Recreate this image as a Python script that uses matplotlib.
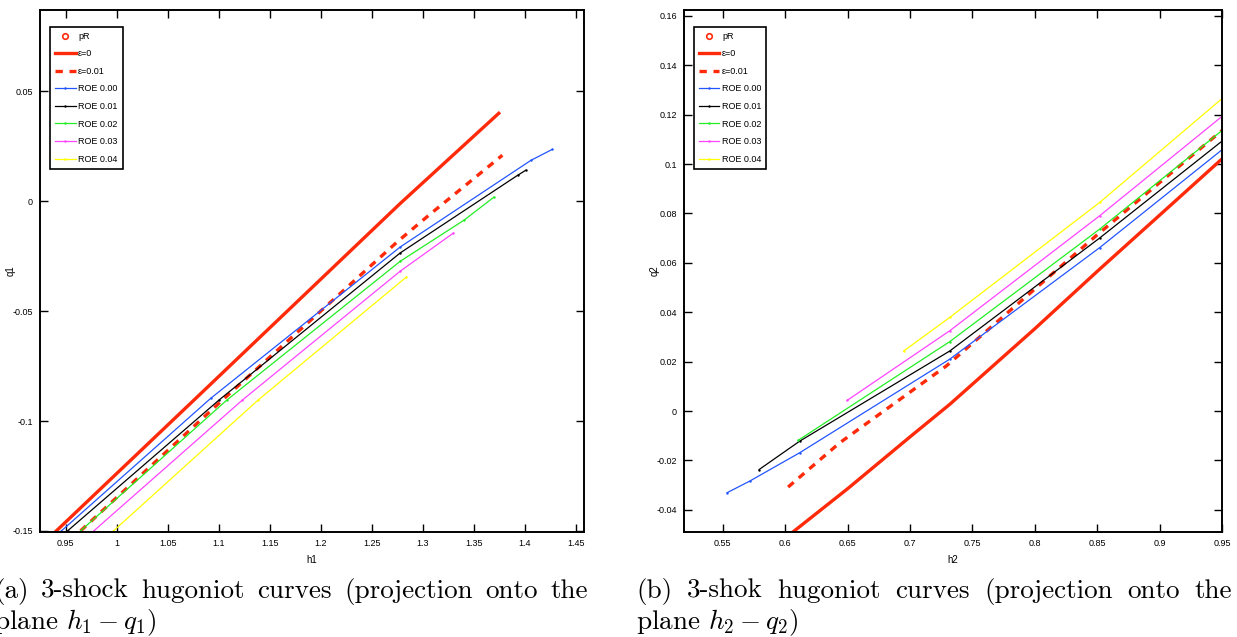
import numpy as np
import matplotlib
matplotlib.use("Agg")
import matplotlib.pyplot as plt
from matplotlib.ticker import FuncFormatter

plt.rcParams['font.family'] = ['Liberation Sans Narrow', 'Liberation Sans', 'DejaVu Sans']
plt.rcParams['axes.unicode_minus'] = False
plt.rcParams['mathtext.fontset'] = 'cm'

# ---- data: panel (a), h1 - q1 ----
h1_eps0 = [0.941, 1.0758, 1.278, 1.3745]
q1_eps0 = [-0.150, -0.0905, -0.001, 0.040]
h1_eps001 = [0.9647, 1.1036, 1.275, 1.308, 1.378]
q1_eps001 = [-0.150, -0.0905, -0.0185, -0.0056, 0.0209]
h1_roe0 = [0.946, 1.0922, 1.278, 1.406, 1.427]
q1_roe0 = [-0.150, -0.0897, -0.0208, 0.0186, 0.0236]
h1_roe1 = [0.952, 1.1003, 1.278, 1.393, 1.401]
q1_roe1 = [-0.150, -0.0905, -0.0235, 0.0118, 0.0141]
h1_roe2 = [0.9647, 1.108, 1.278, 1.3405, 1.3696]
q1_roe2 = [-0.150, -0.0905, -0.0273, -0.0086, 0.0018]
h1_roe3 = [0.9777, 1.1232, 1.278, 1.330]
q1_roe3 = [-0.150, -0.0905, -0.0318, -0.0145]
h1_roe4 = [0.997, 1.1386, 1.284]
q1_roe4 = [-0.150, -0.0905, -0.0345]

# ---- panel (b), h2 - q2 ----
h2_eps0 = [0.605, 0.65, 0.70, 0.7319, 0.80, 0.8521, 0.90, 0.95]
q2_eps0 = [-0.0495, -0.0315, -0.0105, 0.0027, 0.0333, 0.0575, 0.0793, 0.1021]
h2_eps001 = [0.6024, 0.6437, 0.7293, 0.8508, 0.95]
q2_eps001 = [-0.0308, -0.0129, 0.0183, 0.0717, 0.1136]
h2_roe0 = [0.5535, 0.5716, 0.6117, 0.7319, 0.8521, 0.95]
q2_roe0 = [-0.0331, -0.0284, -0.0169, 0.0210, 0.0662, 0.1058]
h2_roe1 = [0.5792, 0.6117, 0.7319, 0.8521, 0.95]
q2_roe1 = [-0.0237, -0.0122, 0.0243, 0.0701, 0.1093]
h2_roe2 = [0.6104, 0.7319, 0.8521, 0.95]
q2_roe2 = [-0.0119, 0.0281, 0.0737, 0.1136]
h2_roe3 = [0.6497, 0.7319, 0.8521, 0.95]
q2_roe3 = [0.0043, 0.0325, 0.0791, 0.1193]
h2_roe4 = [0.695, 0.7319, 0.8521, 0.95]
q2_roe4 = [0.0243, 0.0379, 0.0845, 0.1265]

labels = ['pR', '\u03b5=0', '\u03b5=0.01', 'ROE 0.00', 'ROE 0.01', 'ROE 0.02', 'ROE 0.03', 'ROE 0.04']
roe_colors = ['#2255ff', 'black', '#22ee22', '#ff44ff', '#ffff00']
red = '#ff2a0a'

fig = plt.figure(figsize=(12.37, 6.37), dpi=100)
ax1 = fig.add_axes([40/1237, 105/637, 544/1237, 522/637])
ax2 = fig.add_axes([684/1237, 105/637, 538/1237, 522/637])


def draw(ax, eps0, eps001, roes, xlabel, ylabel, ylab_x):
    ax.plot([], [], 'o', mfc='none', mec=red, ms=4, mew=1.2, ls='none', label=labels[0])
    ax.plot(eps0[0], eps0[1], color=red, lw=2.4, label=labels[1])
    ax.plot(eps001[0], eps001[1], color=red, lw=2.4, ls=(0, (2.2, 2.0)), label=labels[2])
    for (x, y), c, lab in zip(roes, roe_colors, labels[3:]):
        ax.plot(x, y, color=c, lw=0.9, marker='.', ms=1.5, label=lab)
    ax.set_xlabel(xlabel, fontsize=7, labelpad=5)
    ax.set_ylabel(ylabel, fontsize=7)
    ax.yaxis.set_label_coords(ylab_x, 0.5)
    ax.tick_params(direction='in', top=True, right=True, length=6, width=1, labelsize=6.5, pad=5)
    for s in ax.spines.values():
        s.set_linewidth(1.4)
    ax.xaxis.set_major_formatter(FuncFormatter(lambda v, p: '%g' % round(v, 4)))
    ax.yaxis.set_major_formatter(FuncFormatter(lambda v, p: '%g' % round(v, 4)))
    leg = ax.legend(loc='upper left', fontsize=6.5, handlelength=2.3, labelspacing=0.95,
                    borderpad=0.55, handletextpad=0.3, borderaxespad=0, fancybox=False,
                    framealpha=1, edgecolor='black', bbox_to_anchor=(0.018, 0.968))
    leg.get_frame().set_linewidth(1.2)


draw(ax1, (h1_eps0, q1_eps0), (h1_eps001, q1_eps001),
     [(h1_roe0, q1_roe0), (h1_roe1, q1_roe1), (h1_roe2, q1_roe2), (h1_roe3, q1_roe3), (h1_roe4, q1_roe4)],
     'h1', 'q1', -0.045)
ax1.set_xlim(0.925, 1.458)
ax1.set_ylim(-0.1505, 0.087)
ax1.set_xticks(np.arange(0.95, 1.451, 0.05))
ax1.set_yticks([-0.15, -0.1, -0.05, 0, 0.05])

draw(ax2, (h2_eps0, q2_eps0), (h2_eps001, q2_eps001),
     [(h2_roe0, q2_roe0), (h2_roe1, q2_roe1), (h2_roe2, q2_roe2), (h2_roe3, q2_roe3), (h2_roe4, q2_roe4)],
     'h2', 'q2', -0.045)
ax2.set_xlim(0.519, 0.95)
ax2.set_ylim(-0.049, 0.1624)
ax2.set_xticks(np.arange(0.55, 0.951, 0.05))
ax2.set_yticks(np.arange(-0.04, 0.161, 0.02))


def justified(words, x0, x1, y, fs):
    r = fig.canvas.get_renderer()
    ts = [fig.text(0, y / 637, w, fontsize=fs, family='cmr10', va='baseline') for w in words]
    ws = [t.get_window_extent(r).width for t in ts]
    gap = (x1 - x0 - sum(ws)) / (len(words) - 1)
    x = x0
    for t, w in zip(ts, ws):
        t.set_x(x / 1237)
        x += w + gap


fs = 19.5
justified('(a) 3-shock hugoniot curves (projection onto the'.split(), -6, 588, 637 - 598, fs)
fig.text(-6 / 1237, (637 - 629) / 637, 'plane $h_1 - q_1$)', fontsize=fs, family='cmr10', va='baseline')
justified('(b) 3-shok hugoniot curves (projection onto the'.split(), 636, 1232, 637 - 598, fs)
fig.text(636 / 1237, (637 - 629) / 637, 'plane $h_2 - q_2$)', fontsize=fs, family='cmr10', va='baseline')

fig.savefig('out.png', dpi=100)
